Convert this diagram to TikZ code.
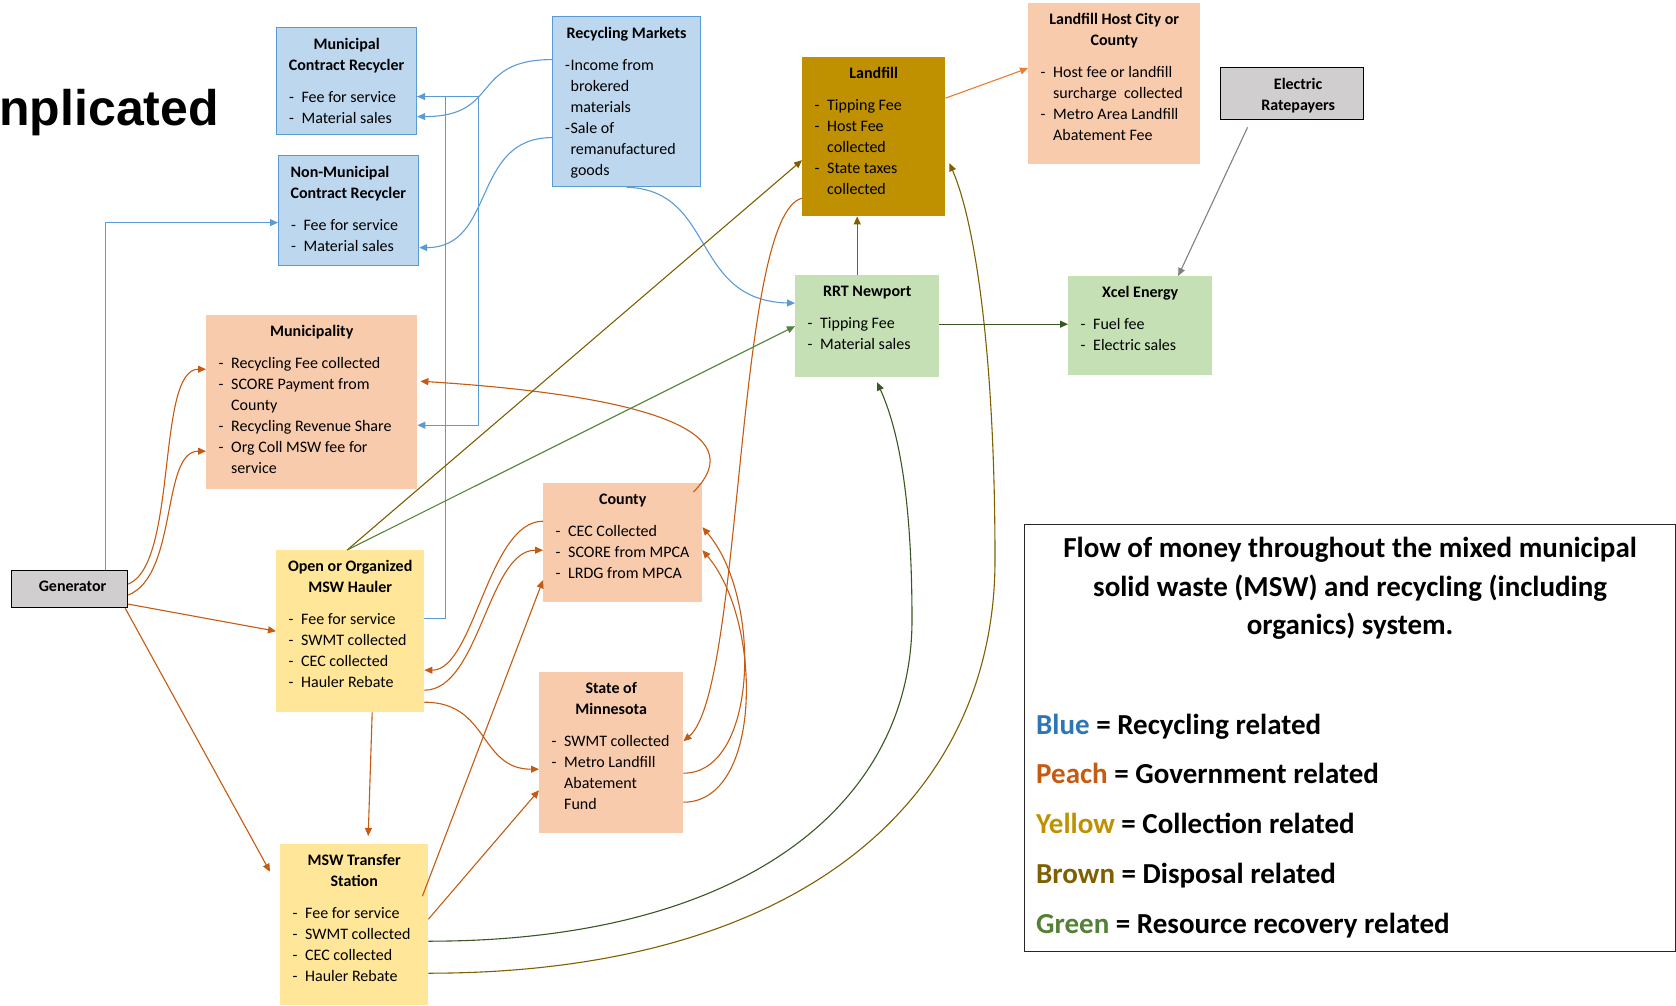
\documentclass[tikz,border=0pt]{standalone}
\usepackage{fontspec}
\setmainfont{Carlito}
\newfontfamily\headfont{Liberation Sans}
\usetikzlibrary{arrows.meta}

\definecolor{recfill}{HTML}{BDD7EE}
\definecolor{recline}{HTML}{5B9BD5}
\definecolor{govfill}{HTML}{F8CBAD}
\definecolor{govline}{HTML}{C55A11}
\definecolor{hostline}{HTML}{ED7D31}
\definecolor{colfill}{HTML}{FFE699}
\definecolor{dumpfill}{HTML}{BF9000}
\definecolor{brownline}{HTML}{7F6000}
\definecolor{grnfill}{HTML}{C5E0B4}
\definecolor{grnline}{HTML}{548235}
\definecolor{dkgrnline}{HTML}{385723}
\definecolor{payfill}{HTML}{D0CECE}
\definecolor{legblue}{HTML}{2E75B6}
\definecolor{legpeach}{HTML}{C55A11}
\definecolor{legyellow}{HTML}{BF9000}
\definecolor{legbrown}{HTML}{7F6000}
\definecolor{leggreen}{HTML}{538135}

% box text: width, height, bold title, list
\newcommand{\moneytext}[4]{\parbox[t][#2][t]{#1}{\fontsize{16}{21}\selectfont
  \vspace*{2.5pt}{\centering\bfseries #3\par}\vspace{11pt}#4}}
\newcommand{\dashitem}[2][19pt]{\par\noindent\hangindent=#1\hangafter=1%
  \makebox[#1][l]{\hspace{6.5pt}-}#2}

\begin{document}
\begin{tikzpicture}[x=1pt, y=-1pt,
  money/.style={anchor=north west, inner xsep=6pt, inner ysep=8pt},
  recbox/.style={money, fill=recfill, draw=recline, line width=1.2pt},
  govbox/.style={money, fill=govfill},
  colbox/.style={money, fill=colfill},
  dumpbox/.style={money, fill=dumpfill},
  grnbox/.style={money, fill=grnfill},
  paybox/.style={money, fill=payfill, draw=black, line width=1.2pt},
  cash/.style={-{Triangle[length=8pt,width=7pt]}, line width=1.1pt},
  bluearrow/.style={cash, draw=recline},
  peacharrow/.style={cash, draw=govline},
  hostarrow/.style={cash, draw=hostline},
  brownarrow/.style={cash, draw=brownline},
  greenarrow/.style={cash, draw=grnline},
  darkgreenarrow/.style={cash, draw=dkgrnline},
  grayarrow/.style={cash, draw=black!50},
  keytext/.style={anchor=base west, inner sep=0pt, font=\fontsize{29}{38}\selectfont\bfseries}]
\useasboundingbox (0,0) rectangle (1676,1006);

\node[anchor=base east, inner sep=0pt, font=\headfont\fontsize{50}{60}\selectfont\bfseries] (heading) at (219,126) {nplicated};

% recycling
\node[recbox] (munirec) at (276,27) {\moneytext{128pt}{91pt}{Municipal\\Contract Recycler}{\dashitem{Fee for service}\dashitem{Material sales}}};
\node[recbox] (nonmuni) at (278,155) {\moneytext{128pt}{94pt}{\raggedright\leftskip=6pt Non-Municipal\\Contract Recycler}{\dashitem{Fee for service}\dashitem{Material sales}}};
\node[recbox] (markets) at (552,16) {\moneytext{136pt}{154pt}{Recycling Markets}{\dashitem[12pt]{Income from\newline brokered\newline materials}\dashitem[12pt]{Sale of\newline remanufactured\newline goods}}};

% government
\node[govbox] (municipality) at (206,315) {\moneytext{199pt}{158pt}{Municipality}{\dashitem{Recycling Fee collected}\dashitem{SCORE Payment from\newline County}\dashitem{Recycling Revenue Share}\dashitem{Org Coll MSW fee for\newline service}}};
\node[govbox] (host) at (1028,3) {\moneytext{160pt}{145pt}{Landfill Host City or\\County}{\dashitem{Host fee or landfill\newline surcharge\ \ collected}\dashitem{Metro Area Landfill\newline Abatement Fee}}};
\node[govbox] (county) at (543,483) {\moneytext{147pt}{103pt}{County}{\dashitem{CEC Collected}\dashitem{SCORE from MPCA}\dashitem{LRDG from MPCA}}};
\node[govbox] (state) at (539,672) {\moneytext{132pt}{145pt}{State of\\Minnesota}{\dashitem{SWMT collected}\dashitem{Metro Landfill\newline Abatement\newline Fund}}};

% collection
\node[colbox] (hauler) at (276,550) {\moneytext{136pt}{146pt}{Open or Organized\\MSW Hauler}{\dashitem{Fee for service}\dashitem{SWMT collected}\dashitem{CEC collected}\dashitem{Hauler Rebate}}};
\node[colbox] (transfer) at (280,844) {\moneytext{136pt}{145pt}{MSW Transfer\\Station}{\dashitem{Fee for service}\dashitem{SWMT collected}\dashitem{CEC collected}\dashitem{Hauler Rebate}}};

% disposal and recovery
\node[dumpbox] (landfill) at (802,57) {\moneytext{131pt}{143pt}{Landfill}{\dashitem{Tipping Fee}\dashitem{Host Fee\newline collected}\dashitem{State taxes\newline collected}}};
\node[grnbox] (rrt) at (795,275) {\moneytext{132pt}{86pt}{RRT Newport}{\dashitem{Tipping Fee}\dashitem{Material sales}}};
\node[grnbox] (xcel) at (1068,276) {\moneytext{132pt}{83pt}{Xcel Energy}{\dashitem{Fuel fee}\dashitem{Electric sales}}};

% payers
\node[paybox] (generator) at (11,570) {\moneytext{104pt}{21pt}{\hspace*{6pt}Generator}{}};
\node[paybox] (ratepayers) at (1220,67) {\moneytext{131pt}{36pt}{\leftskip=12pt plus 1fil Electric\\Ratepayers}{}};

% legend
\node[money, inner xsep=12pt, draw=black!85, line width=1.2pt] (legend) at (1024,524) {\parbox[t][411pt][t]{627pt}{\fontsize{29}{38.5}\selectfont\centering\bfseries
  \vspace*{5pt}Flow of money throughout the mixed municipal\\solid waste (MSW) and recycling (including\\organics) system.}};
\foreach \C/\W/\T [count=\k] in {legblue/Blue/Recycling, legpeach/Peach/Government, legyellow/Yellow/Collection, legbrown/Brown/Disposal, leggreen/Green/Resource recovery}
  {\node[keytext] (key\k) at (1036,{734+49.75*(\k-1)}) {\textcolor{\C}{\W} = \T{} related};}

\coordinate (brownturn) at (995,560);
\coordinate (greenturn) at (912,620);

% blue
\draw[bluearrow] ([xshift=36]generator.north) |- ([yshift=-12]nonmuni.west);
\draw[bluearrow] ([yshift=13]hauler.east) -| ([xshift=28,yshift=-15.5]munirec.east) -- ([yshift=-15.5]munirec.east);
\draw[bluearrow] ([yshift=-15.5]munirec.east) -- ++(61,0) |- ([yshift=-23]municipality.east);
\draw[bluearrow] ([yshift=42]markets.west) .. controls +(-82,0) and +(84,0) .. ([yshift=-35.5]munirec.east);
\draw[bluearrow] ([yshift=-36]markets.west) .. controls +(-81,0) and +(77,0) .. ([yshift=-37]nonmuni.east);
\draw[bluearrow] (markets.south) .. controls +(90,3) and +(-105,-3) .. ([yshift=23]rrt.west);

% peach
\draw[peacharrow] ([yshift=5]generator.east) .. controls +(50,-20) and +(-50,0) .. ([yshift=33]municipality.west);
\draw[peacharrow] ([yshift=-6]generator.east) .. controls +(50,-20) and +(-45,0) .. ([yshift=-49]municipality.west);
\draw[peacharrow] ([yshift=-15]generator.east) -- (hauler.west);
\draw[peacharrow] ([xshift=-3]generator.south east) -- ([xshift=-10,yshift=53]transfer.west);
\draw[peacharrow] ([xshift=22]hauler.south) -- ([xshift=14,yshift=8]transfer.north);
\draw[peacharrow] ([yshift=21.5]county.west) .. controls +(-55,0) and +(50,0) .. ([yshift=-39]hauler.east);
\draw[peacharrow] ([yshift=-59]hauler.east) .. controls +(55,0) and +(-55,0) .. ([yshift=-7.5]county.west);
\draw[peacharrow] ([yshift=-71]hauler.east) .. controls +(65,0) and +(-60,0) .. ([yshift=-16.5]state.west);
\draw[peacharrow] ([xshift=-6,yshift=28.5]transfer.east) -- ([yshift=-37.5]county.west);
\draw[peacharrow] ([yshift=5.5]transfer.east) -- ([yshift=-37.5]state.west);
\draw[peacharrow] ([yshift=-61.5]landfill.west) .. controls +(-67,17) and +(60,-51) .. ([yshift=11.5]state.east);
\draw[peacharrow] ([yshift=-20.5]state.east) .. controls +(75,0) and +(60,70) .. ([yshift=15.5]county.east);
\draw[peacharrow] ([yshift=-49.5]state.east) .. controls +(80,0) and +(60,70) .. ([yshift=-7.5]county.east);
\draw[peacharrow] ([xshift=-9,yshift=-9]county.north east) .. controls +(62,-62) and +(220,14) .. ([xshift=3,yshift=21]municipality.east);
\draw[hostarrow] ([yshift=38.5]landfill.east) -- ([yshift=15.5]host.west);

% brown
\draw[brownarrow] ([xshift=-3]hauler.north) -- ([yshift=-23.5]landfill.west);
\draw[brownarrow] ([xshift=-10]rrt.north) -- ([xshift=-10]rrt.north |- landfill.south);
\draw[brownarrow] ([yshift=-48.5]transfer.east) .. controls +(372,0) and +(0,240) .. (brownturn) .. controls +(0,-210) and +(25,57) .. ([xshift=4,yshift=-26.5]landfill.east);

% green
\draw[greenarrow] ([xshift=-3]hauler.north) -- (rrt.west);
\draw[darkgreenarrow] ([yshift=2]rrt.east) -- ([yshift=1.5]xcel.west);
\draw[darkgreenarrow] ([yshift=-16.5]transfer.east) .. controls +(322,0) and +(0,180) .. (greenturn) .. controls +(0,-140) and +(17,38) .. ([xshift=10,yshift=-5]rrt.south);

% gray
\draw[grayarrow] ([xshift=-44.5,yshift=-7]ratepayers.south) -- ([xshift=38]xcel.north);
\end{tikzpicture}
\end{document}
